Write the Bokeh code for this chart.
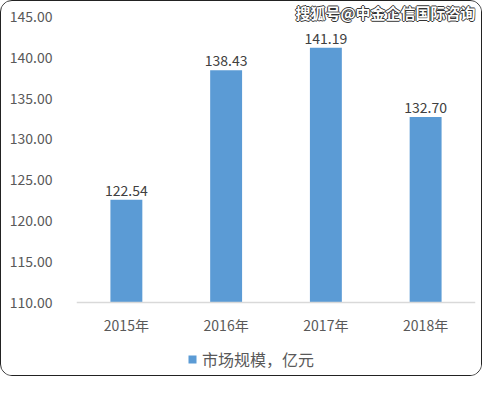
from bokeh.plotting import figure
from bokeh.layouts import column
from bokeh.models import (ColumnDataSource, Legend, LegendItem, LabelSet, Label,
                          NumeralTickFormatter, FixedTicker)
from bokeh.core.properties import value
from bokeh.embed import file_html
from bokeh.resources import INLINE

years = ["2015年", "2016年", "2017年", "2018年"]
sizes = [122.54, 138.43, 141.19, 132.70]
size_labels = ["122.54", "138.43", "141.19", "132.70"]
y_ticks = [110, 115, 120, 125, 130, 135, 140, 145]
series_name = "市场规模，亿元"
watermark = "搜狐号@中金企信国际咨询"

FONT = "Noto Sans CJK SC"
GRAY = "#595959"
BLUE = "#5B9BD5"

src = ColumnDataSource(dict(year=years, size=sizes, lab=size_labels))

# the frame extends below the 110 baseline (legend) and above 145 (watermark)
p = figure(x_range=years, y_range=(101.5, 146.85), width=480, height=374,
           output_backend="svg", toolbar_location=None,
           min_border_left=75, min_border_right=6, min_border_top=0, min_border_bottom=4)
p.outline_line_color = None
p.background_fill_color = "white"
p.border_fill_color = "white"
p.xgrid.grid_line_color = None
p.ygrid.grid_line_color = None

bars = p.vbar(x="year", top="size", bottom=y_ticks[0], width=0.32, source=src,
              fill_color=BLUE, line_color=None)

p.add_layout(LabelSet(x="year", y="size", text="lab", source=src, y_offset=4,
                      text_align="center", text_baseline="bottom",
                      text_font=value(FONT), text_font_size="14px", text_color="#404040"))

p.yaxis.ticker = FixedTicker(ticks=y_ticks)
p.yaxis.formatter = NumeralTickFormatter(format="0.00")
p.yaxis.axis_line_color = None
p.yaxis.major_tick_line_color = None
p.yaxis.minor_tick_line_color = None
p.yaxis.major_label_standoff = 18
p.yaxis.major_label_text_font = FONT
p.yaxis.major_label_text_font_size = "14px"
p.yaxis.major_label_text_color = GRAY

p.xaxis.fixed_location = y_ticks[0]
p.xaxis.axis_line_color = "#D9D9D9"
p.xaxis.axis_line_width = 1.5
p.xaxis.major_tick_line_color = None
p.xaxis.minor_tick_line_color = None
p.xaxis.major_label_standoff = 7
p.xaxis.major_label_text_font = FONT
p.xaxis.major_label_text_font_size = "14px"
p.xaxis.major_label_text_color = GRAY

legend = Legend(items=[LegendItem(label=series_name, renderers=[bars])],
                orientation="horizontal", location=(111, 0),
                glyph_width=10, glyph_height=10, label_standoff=5,
                label_text_font=FONT, label_text_font_size="16px",
                label_text_color=GRAY, border_line_color=None,
                background_fill_alpha=0, padding=6, margin=0)
p.add_layout(legend, "center")

# watermark: dark outline then white fill
for dx, dy, col in [(-1, 0, "#333"), (1, 0, "#333"), (0, -1, "#333"), (0, 1, "#333"),
                    (0, 0, "white")]:
    p.add_layout(Label(x=4.0, y=y_ticks[-1], x_offset=dx, y_offset=dy + 4, text=watermark,
                       text_align="right", text_baseline="middle",
                       text_font=FONT, text_font_size="15px", text_font_style="bold",
                       text_color=col))

layout = column(p, styles={"border": "1.5px solid #222", "border-radius": "12px",
                           "overflow": "hidden"})

open("out.html", "w").write(file_html(layout, INLINE))
